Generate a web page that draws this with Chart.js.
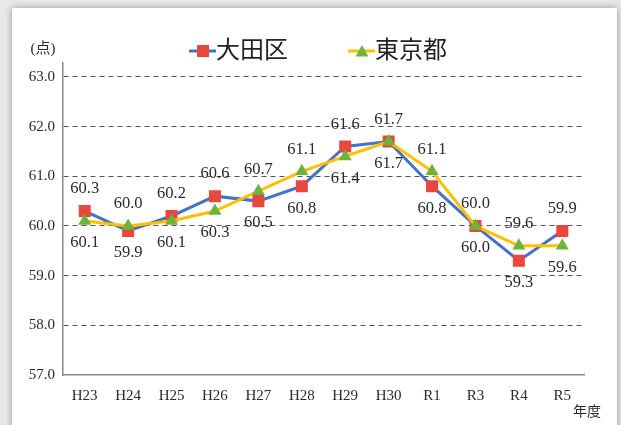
<!DOCTYPE html>
<html>
<head>
<meta charset="utf-8">
<script src="https://cdn.jsdelivr.net/npm/chart.js@4.4.0/dist/chart.umd.min.js"></script>
<style>
    html, body { margin: 0; padding: 0; width: 621px; height: 425px; overflow: hidden; background: #e8e8e8; }
    #panel { position: absolute; left: 12px; top: 8px; width: 605px; height: 440px; background: #fff; box-shadow: 0 0 7px rgba(0, 0, 0, 0.35); }
    #wrap { position: absolute; left: 0; top: 0; width: 621px; height: 425px; }
</style>
</head>
<body>
<div id="panel"></div>
<div id="wrap"><canvas id="score-chart" width="621" height="425"></canvas></div>
<script>
const years = ["H23", "H24", "H25", "H26", "H27", "H28", "H29", "H30", "R1", "R3", "R4", "R5"];
const otaValues = [60.3, 59.9, 60.2, 60.6, 60.5, 60.8, 61.6, 61.7, 60.8, 60.0, 59.3, 59.9];
const tokyoValues = [60.1, 60.0, 60.1, 60.3, 60.7, 61.1, 61.4, 61.7, 61.1, 60.0, 59.6, 59.6];
const yTicks = [57, 58, 59, 60, 61, 62, 63];
const seriesNames = ["大田区", "東京都"];

const BLUE = "#4472c4";
const RED = "#e8473d";
const YELLOW = "#ffc000";
const GREEN = "#6db33f";
const TEXT = "#2a2a2a";
const SERIF = "'Liberation Serif', 'Noto Sans CJK JP', serif";

// value labels: the higher series goes above its point, the lower one below
const valueLabels = {
    id: "valueLabels",
    afterDatasetsDraw(chart) {
        const ctx = chart.ctx;
        const ota = chart.getDatasetMeta(0).data;
        const tokyo = chart.getDatasetMeta(1).data;
        ctx.save();
        ctx.font = "16.5px " + SERIF;
        ctx.fillStyle = TEXT;
        ctx.textAlign = "center";
        ctx.textBaseline = "middle";
        years.forEach((y, i) => {
            const otaUp = otaValues[i] >= tokyoValues[i];
            const up = otaUp ? ota[i] : tokyo[i];
            const down = otaUp ? tokyo[i] : ota[i];
            const upVal = otaUp ? otaValues[i] : tokyoValues[i];
            const downVal = otaUp ? tokyoValues[i] : otaValues[i];
            ctx.fillText(upVal.toFixed(1), up.x, up.y - 22);
            ctx.fillText(downVal.toFixed(1), down.x, down.y + 22);
        });
        ctx.restore();
    }
};

// legend and the small captions
const extras = {
    id: "extras",
    afterDraw(chart) {
        const ctx = chart.ctx;
        ctx.save();

        // 大田区
        ctx.strokeStyle = BLUE;
        ctx.lineWidth = 3;
        ctx.beginPath();
        ctx.moveTo(189, 51);
        ctx.lineTo(216, 51);
        ctx.stroke();
        ctx.fillStyle = RED;
        ctx.fillRect(197, 45, 12, 12);

        // 東京都
        ctx.strokeStyle = YELLOW;
        ctx.beginPath();
        ctx.moveTo(348, 51);
        ctx.lineTo(375, 51);
        ctx.stroke();
        ctx.fillStyle = GREEN;
        ctx.beginPath();
        ctx.moveTo(362, 45);
        ctx.lineTo(368.5, 56.5);
        ctx.lineTo(355.5, 56.5);
        ctx.closePath();
        ctx.fill();

        ctx.fillStyle = "#222";
        ctx.font = "24px 'Noto Sans CJK JP'";
        ctx.textBaseline = "middle";
        ctx.textAlign = "left";
        ctx.fillText(seriesNames[0], 216, 49);
        ctx.fillText(seriesNames[1], 375, 49);

        ctx.fillStyle = TEXT;
        ctx.font = "15px " + SERIF;
        ctx.textAlign = "center";
        ctx.fillText("(点)", 43, 49);
        ctx.font = "14px " + SERIF;
        ctx.fillText("年度", 587, 412);
        ctx.restore();
    }
};

const ctx = document.getElementById("score-chart").getContext("2d");
const chart = new Chart(ctx, {
    type: "line",
    data: {
        labels: years,
        datasets: [
            {
                label: seriesNames[0],
                data: otaValues,
                borderColor: BLUE,
                borderWidth: 3,
                pointStyle: "rect",
                pointRadius: 8.5,
                pointBackgroundColor: RED,
                pointBorderColor: RED,
                pointBorderWidth: 0,
                tension: 0,
                order: 1
            },
            {
                label: seriesNames[1],
                data: tokyoValues,
                borderColor: YELLOW,
                borderWidth: 3,
                pointStyle: "triangle",
                pointRadius: 7.5,
                pointBackgroundColor: GREEN,
                pointBorderColor: GREEN,
                pointBorderWidth: 0,
                tension: 0,
                order: 0
            }
        ]
    },
    options: {
        responsive: false,
        animation: false,
        layout: { padding: { left: 0, top: 63, right: 37, bottom: 0 } },
        plugins: {
            legend: { display: false },
            tooltip: { enabled: false }
        },
        scales: {
            x: {
                offset: true,
                grid: { display: true, drawOnChartArea: false, drawTicks: false },
                border: { color: "#8a8a8a", width: 1.5 },
                ticks: {
                    color: TEXT,
                    font: { family: SERIF, size: 15 },
                    padding: 12,
                    maxRotation: 0,
                    autoSkip: false
                },
                afterFit: (s) => { s.height = 50; }
            },
            y: {
                min: 57,
                max: 63.28,
                afterBuildTicks: (s) => { s.ticks = yTicks.map((v) => ({ value: v })); },
                grid: {
                    drawTicks: false,
                    color: (c) => (c.tick && c.tick.value === 57 ? "rgba(0,0,0,0)" : "#555"),
                    lineWidth: 1
                },
                border: { color: "#8a8a8a", width: 1.5, dash: [5, 4] },
                ticks: {
                    color: TEXT,
                    font: { family: SERIF, size: 15 },
                    padding: 8,
                    callback: (v) => Number(v).toFixed(1)
                },
                afterFit: (s) => { s.width = 63; }
            }
        }
    },
    plugins: [valueLabels, extras]
});
</script>
</body>
</html>
